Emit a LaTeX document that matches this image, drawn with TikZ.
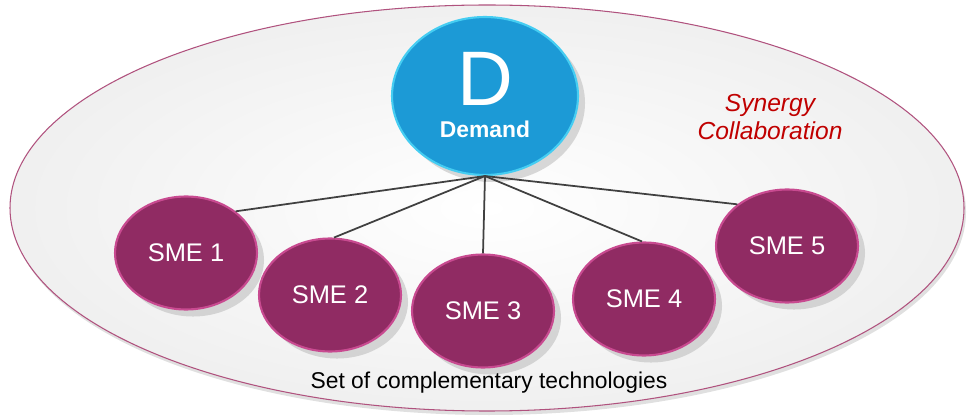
\documentclass[tikz,border=0pt]{standalone}
\usepackage{fontspec}
\setmainfont{Liberation Sans}
\usetikzlibrary{shapes, shapes.geometric}
\usetikzlibrary{arrows, arrows.meta}
\usetikzlibrary{calc, shadows}
\usetikzlibrary {positioning}

\definecolor{smefill}{HTML}{902B63}
\definecolor{smerim}{HTML}{C84A90}
\definecolor{demfill}{HTML}{1C9AD6}
\definecolor{demrim}{HTML}{45CDF2}
\definecolor{setrim}{HTML}{B0527E}
\definecolor{synred}{HTML}{C00000}

\begin{document}
\begin{tikzpicture}[x = 0.02cm, y = -0.02cm,
    sme/.style = {ellipse, fill = smefill, draw = smerim, line width = 1.2pt,
                  minimum width = 2.84cm, minimum height = 2.26cm, inner sep = 0pt,
                  text = white, font = \fontsize{14.5}{16}\selectfont,
                  drop shadow = {shadow xshift = 4pt, shadow yshift = -4pt, fill = black!25, opacity = 0.6}},
    demand/.style = {ellipse, fill = demfill, draw = demrim, line width = 1.2pt,
                  minimum width = 3.72cm, minimum height = 3.16cm, inner sep = 0pt,
                  drop shadow = {shadow xshift = 4pt, shadow yshift = -4pt, fill = black!25, opacity = 0.6}},
    link/.style = {draw = black!75, line width = 1pt}]

    \useasboundingbox (0,0) rectangle (973,418);

    % set of technologies
    \def\rx{477}
    \def\ry{203}
    \fill[black!12] (489,212) ellipse [x radius = \rx, y radius = \ry];
    \shade[inner color = white, outer color = black!6, draw = setrim, line width = 0.6pt]
            (487,208) ellipse [x radius = \rx, y radius = \ry];

    \node[demand] (dem) at (485,96) {};
    \node[text = white, inner sep = 0pt, font = \fontsize{44}{44}\selectfont] (dletter) at (485,79) {D};
    \node[text = white, inner sep = 0pt, font = \bfseries\fontsize{13}{15}\selectfont] (demlabel) at (485,129) {Demand};

    \node[sme] (s1) at (186,253) {SME 1};
    \node[sme] (s2) at (330,295) {SME 2};
    \node[sme] (s3) at (483,311) {SME 3};
    \node[sme] (s4) at (644,299) {SME 4};
    \node[sme] (s5) at (787,246) {SME 5};

    \draw[link] (dem.south) -- (s1.40);
    \draw[link] (dem.south) -- (s2.86);
    \draw[link] (dem.south) -- (s3.north);
    \draw[link] (dem.south) -- (s4.92);
    \draw[link] (dem.south) -- (s5.140);

    \node[text = synred, font = \itshape\fontsize{14}{16}\selectfont, align = center]
            (synergy) at (770,117) {Synergy\\Collaboration};
    \node[font = \fontsize{13}{15}\selectfont] (setlabel) at (489,383) {Set of complementary technologies};

\end{tikzpicture}
\end{document}
